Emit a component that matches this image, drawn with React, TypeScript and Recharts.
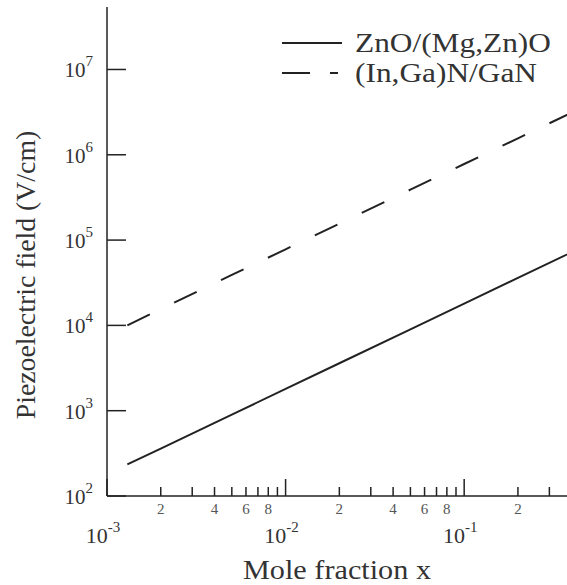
import React from "react";
import { LineChart, Line, XAxis, YAxis } from "recharts";

const moleFraction = [0.0013, 0.002, 0.005, 0.01, 0.02, 0.05, 0.1, 0.2, 0.5];
const znoField = [235, 360, 900, 1800, 3600, 9000, 18000, 36000, 90000];
const inganField = [10000, 15500, 39000, 78000, 156000, 390000, 780000, 1560000, 3900000];

const xMajor = [0.001, 0.01, 0.1];
const xMinor = [
  0.002, 0.003, 0.004, 0.005, 0.006, 0.007, 0.008, 0.009,
  0.02, 0.03, 0.04, 0.05, 0.06, 0.07, 0.08, 0.09,
  0.2, 0.3, 0.4,
];
const xMinorLabels = [2, 4, 6, 8];
const yTicks = [1e2, 1e3, 1e4, 1e5, 1e6, 1e7];

const seriesNames = ["ZnO/(Mg,Zn)O", "(In,Ga)N/GaN"];

const data = moleFraction.map((x, i) => ({ x, zno: znoField[i], ingan: inganField[i] }));

const FONT = "'Liberation Serif', 'DejaVu Serif', serif";
const TEXT = "#333";
const INK = "#222";

function XTick(props: any) {
  const { x, y, payload } = props;
  const v: number = payload.value;
  const isMajor = xMajor.some((m) => Math.abs(m - v) / m < 1e-6);
  const exp = Math.round(Math.log10(v));
  const mant = Math.round(v / Math.pow(10, Math.floor(Math.log10(v) + 1e-9)));
  return (
    <g>
      <line x1={x} y1={y} x2={x} y2={y - (isMajor ? 17 : 9)} stroke={INK} strokeWidth={1.5} />
      {isMajor ? (
        <text x={x - 4} y={y + 47} textAnchor="middle" fontFamily={FONT} fill={TEXT} fontSize={22}>
          <tspan>10</tspan>
          <tspan dy={-11} fontSize={15}>{exp}</tspan>
        </text>
      ) : xMinorLabels.includes(mant) ? (
        <text x={x} y={y + 18} textAnchor="middle" fontFamily={FONT} fill="#555" fontSize={15}>
          {mant}
        </text>
      ) : null}
    </g>
  );
}

function YTick(props: any) {
  const { x, y, payload } = props;
  const exp = Math.round(Math.log10(payload.value));
  return (
    <g>
      <line x1={x} y1={y} x2={x + 19} y2={y} stroke={INK} strokeWidth={1.5} />
      <text x={x - 14} y={y + 8} textAnchor="end" fontFamily={FONT} fill={TEXT} fontSize={21}>
        <tspan>10</tspan>
        <tspan dy={-11} fontSize={15}>{exp}</tspan>
      </text>
    </g>
  );
}

function LegendBox() {
  const dashes = [undefined, "28 20 8 100"];
  return (
    <svg width={290} height={70} style={{ position: "absolute", left: 282, top: 28 }}>
      {seriesNames.map((name, i) => (
        <g key={name}>
          <line x1={0} y1={15 + i * 30} x2={60} y2={15 + i * 30} stroke={INK} strokeWidth={2} strokeDasharray={dashes[i]} />
          <text
            transform={`translate(73,${24 + i * 30}) scale(1.12,1)`}
            fontFamily={FONT}
            fill={TEXT}
            fontSize={28}
          >
            {name}
          </text>
        </g>
      ))}
    </svg>
  );
}

export default function App() {
  return (
    <div style={{ position: "absolute", left: 0, top: 0, width: 567, height: 585, overflow: "hidden", background: "#fff" }}>
      <LineChart width={620} height={585} data={data} margin={{ top: 7, right: 31, left: 0, bottom: 0 }}>
        <XAxis
          dataKey="x"
          type="number"
          scale="log"
          domain={[0.001, 0.5]}
          allowDataOverflow
          ticks={[...xMajor, ...xMinor]}
          tick={<XTick />}
          tickSize={0}
          tickMargin={0}
          tickLine={false}
          axisLine={{ stroke: INK, strokeWidth: 1.5 }}
          height={89}
          interval={0}
          label={{
            content: () => (
              <text
                transform="translate(337,579) scale(1.12,1)"
                textAnchor="middle"
                fontFamily={FONT}
                fontSize={27}
                fill={TEXT}
              >
                Mole fraction x
              </text>
            ),
          }}
        />
        <XAxis
          xAxisId="top"
          orientation="top"
          dataKey="x"
          type="number"
          scale="log"
          domain={[0.001, 0.5]}
          allowDataOverflow
          tick={false}
          tickLine={false}
          height={0}
          axisLine={{ stroke: INK, strokeWidth: 1.5 }}
        />
        <YAxis
          type="number"
          scale="log"
          domain={[100, 5.4e7]}
          allowDataOverflow
          ticks={yTicks}
          tick={<YTick />}
          tickSize={0}
          tickMargin={0}
          tickLine={false}
          interval={0}
          width={107}
          axisLine={{ stroke: INK, strokeWidth: 1.5 }}
          label={{
            content: () => (
              <text
                transform="translate(35,275) rotate(-90) scale(1.03,1)"
                textAnchor="middle"
                fontFamily={FONT}
                fontSize={27}
                fill={TEXT}
              >
                Piezoelectric field (V/cm)
              </text>
            ),
          }}
        />
        <Line dataKey="zno" name={seriesNames[0]} stroke={INK} strokeWidth={2} dot={false} isAnimationActive={false} />
        <Line dataKey="ingan" name={seriesNames[1]} stroke={INK} strokeWidth={2} strokeDasharray="25 27" dot={false} isAnimationActive={false} />
      </LineChart>
      <LegendBox />
    </div>
  );
}
